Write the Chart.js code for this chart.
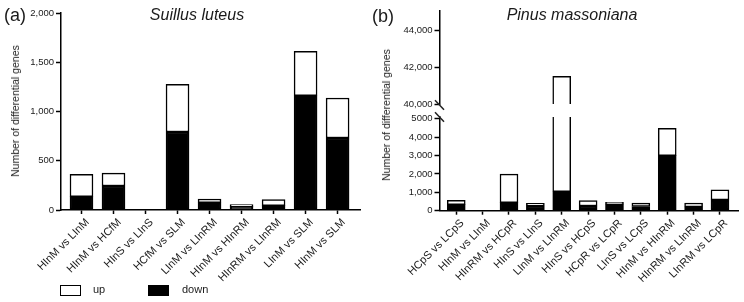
<!DOCTYPE html>
<html>
<head>
<meta charset="utf-8">
<script src="https://cdn.jsdelivr.net/npm/chart.js@4.4.1/dist/chart.umd.min.js"></script>
<style>
  body { margin: 0; background: #fff; font-family: 'Liberation Sans', Arial, sans-serif; color: #1a1a1a; }
  #wrap { position: relative; width: 744px; height: 302px; overflow: hidden; }
  canvas { position: absolute; }
  .txt { position: absolute; white-space: nowrap; }
  .ytitle { position: absolute; font-size: 10.5px; transform: translate(-50%, -50%) rotate(-90deg); white-space: nowrap; }
  .box { position: absolute; width: 19px; height: 9px; border: 1.5px solid #000; }
</style>
</head>
<body>
<div id="wrap">
  <canvas id="chartA" style="left:0;top:0;width:372px;height:284px"></canvas>
  <canvas id="chartBTop" style="left:372px;top:0;width:372px;height:112px"></canvas>
  <canvas id="chartBBottom" style="left:372px;top:95px;width:372px;height:190px"></canvas>

  <div class="txt" style="left:4px;top:5px;font-size:18px">(a)</div>
  <div class="txt" style="left:197px;top:6px;font-size:16px;font-style:italic;transform:translateX(-50%)">Suillus luteus</div>
  <div class="txt" style="left:372px;top:6px;font-size:18px">(b)</div>
  <div class="txt" style="left:572px;top:6px;font-size:16px;font-style:italic;transform:translateX(-50%)">Pinus massoniana</div>

  <div class="ytitle" style="left:15px;top:111px">Number of differential genes</div>
  <div class="ytitle" style="left:386px;top:115px">Number of differential genes</div>

  <div class="box" style="left:60px;top:285px;background:#fff"></div>
  <div class="txt" style="left:93px;top:283px;font-size:11px">up</div>
  <div class="box" style="left:148px;top:285px;background:#000"></div>
  <div class="txt" style="left:182px;top:283px;font-size:11px">down</div>
</div>

<script>
// Panel (a) Suillus luteus
const catsA = ['HInM vs LInM', 'HInM vs HCfM', 'HInS vs LInS', 'HCfM vs SLM', 'LInM vs LInRM',
               'HInM vs HInRM', 'HInRM vs LInRM', 'LInM vs SLM', 'HInM vs SLM'];
const downA = [135, 244, 0, 792, 74, 34, 44, 1160, 731];
const upA   = [227, 131, 0, 484, 38, 20, 61, 451, 406];
const ticksA = [0, 500, 1000, 1500, 2000];
const tickLabelsA = ['0', '500', '1,000', '1,500', '2,000'];

// Panel (b) Pinus massoniana
const catsB = ['HCpS vs LCpS', 'HInM vs LInM', 'HInRM vs HCpR', 'HInS vs LInS', 'LInM vs LInRM',
               'HInS vs HCpS', 'HCpR vs LCpR', 'LInS vs LCpS', 'HInM vs HInRM', 'HInRM vs LInRM', 'LInRM vs LCpR'];
const downB = [330, 0, 440, 255, 1030, 255, 360, 230, 3000, 205, 590];
const upB   = [240, 0, 1550, 145, 40470, 290, 100, 190, 1490, 215, 545];
const ticksBLow = [0, 1000, 2000, 3000, 4000, 5000];
const tickLabelsBLow = ['0', '1,000', '2,000', '3,000', '4,000', '5000'];
const ticksBHigh = [40000, 42000, 44000];
const tickLabelsBHigh = ['40,000', '42,000', '44,000'];

Chart.defaults.font.family = "'Liberation Sans', Arial, sans-serif";
Chart.defaults.color = '#1a1a1a';
Chart.defaults.animation = false;

function pts(arr) {
    return arr.map((v, i) => ({ x: i, y: v }));
}

function barSets(down, up, thick) {
    return [
        { label: 'down', data: pts(down), backgroundColor: '#000', borderColor: '#000',
          borderWidth: 1.5, borderSkipped: false, barThickness: thick, clip: 0 },
        { label: 'up', data: pts(up), backgroundColor: '#fff', borderColor: '#000',
          borderWidth: 1.5, borderSkipped: false, barThickness: thick, clip: 0 }
    ];
}

function xAxis(cats, min, max, height, show) {
    return {
        type: 'linear', stacked: true, min: min, max: max, display: show, offset: false,
        afterBuildTicks: s => { s.ticks = cats.map((c, i) => ({ value: i })); },
        afterFit: s => { s.height = height; },
        ticks: { callback: (v, i) => cats[i], minRotation: 45, maxRotation: 45,
                 autoSkip: false, font: { size: 11 }, padding: 2, labelOffset: 6 },
        grid: { offset: false, drawOnChartArea: false, tickLength: 4, tickColor: '#000', tickWidth: 1.5 },
        border: { color: '#000', width: 1.5 }
    };
}

function yAxis(vals, labels, min, max, width) {
    return {
        stacked: true, min: min, max: max,
        afterBuildTicks: s => { s.ticks = vals.map(v => ({ value: v })); },
        afterFit: s => { s.width = width; },
        ticks: { callback: (v, i) => labels[i], font: { size: 9.5 }, padding: 2 },
        grid: { drawOnChartArea: false, tickLength: 5, tickColor: '#000', tickWidth: 1.5 },
        border: { color: '#000', width: 1.5 }
    };
}

const noPlugins = { legend: { display: false }, tooltip: { enabled: false } };

new Chart(document.getElementById('chartA'), {
    type: 'bar',
    data: { datasets: barSets(downA, upA, 23) },
    options: {
        responsive: false,
        layout: { padding: { top: 13, right: 12, left: 0, bottom: 0 } },
        plugins: noPlugins,
        scales: {
            x: xAxis(catsA, -0.64, 8.70, 74, true),
            y: yAxis(ticksA, tickLabelsA, 0, 2000, 61)
        }
    }
});

new Chart(document.getElementById('chartBTop'), {
    type: 'bar',
    data: { datasets: barSets(downB, upB, 18) },
    options: {
        responsive: false,
        layout: { padding: { top: 11, right: 5.3, left: 0, bottom: 8 } },
        plugins: noPlugins,
        scales: {
            x: xAxis(catsB, -0.635, 10.71, 0, false),
            y: yAxis(ticksBHigh, tickLabelsBHigh, 40000, 45050, 67.5)
        }
    }
});

// the two slashes of the broken axis
const axisBreak = {
    id: 'axisBreak',
    afterDraw(chart) {
        const ctx = chart.ctx;
        const x = chart.chartArea.left;
        const t = chart.chartArea.top;
        ctx.save();
        ctx.strokeStyle = '#222';
        ctx.lineWidth = 1.5;
        [t - 12, t].forEach(y => {
            ctx.beginPath();
            ctx.moveTo(x - 4.5, y - 4.8);
            ctx.lineTo(x + 4.5, y + 4.8);
            ctx.stroke();
        });
        ctx.restore();
    }
};

new Chart(document.getElementById('chartBBottom'), {
    type: 'bar',
    data: { datasets: barSets(downB, upB, 18) },
    options: {
        responsive: false,
        layout: { padding: { top: 22, right: 5.3, left: 0, bottom: 0 } },
        plugins: noPlugins,
        scales: {
            x: xAxis(catsB, -0.635, 10.71, 74.3, true),
            y: yAxis(ticksBLow, tickLabelsBLow, 0, 5100, 67.5)
        }
    },
    plugins: [axisBreak]
});
</script>
</body>
</html>
